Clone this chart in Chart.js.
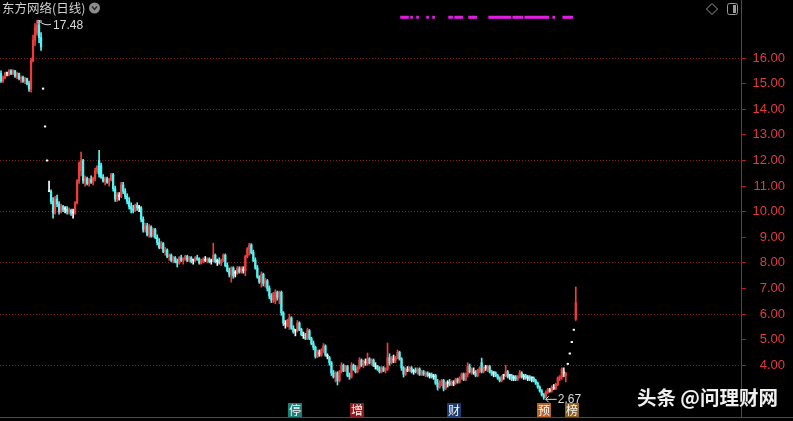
<!DOCTYPE html>
<html>
<head>
<meta charset="utf-8">
<script src="https://cdn.jsdelivr.net/npm/chart.js@4.4.1/dist/chart.umd.min.js"></script>
<style>
  html, body { margin: 0; padding: 0; background: #000; }
  #wrap { width: 793px; height: 421px; }
</style>
</head>
<body>
<div id="wrap"><canvas id="kline"></canvas></div>
<script>
// daily candles (oldest first)
const opens = [
  15.40,15.10,15.25,15.40,15.35,15.50,15.40,15.50,15.30,15.40,
  15.20,15.25,15.10,15.20,15.00,14.80,15.90,16.70,17.00,17.30,
  16.80,14.79,13.31,11.98,10.78,10.78,10.40,9.95,10.50,10.30,
  10.00,10.20,10.10,10.10,10.00,10.05,9.95,9.95,10.35,11.20,
  11.60,12.00,11.20,11.30,11.10,11.25,11.15,11.30,11.60,12.00,
  11.80,11.35,11.20,11.30,11.15,11.25,11.45,10.90,10.50,10.60,
  10.60,11.05,10.80,10.60,10.40,10.20,10.10,10.05,10.25,10.15,
  10.15,9.70,9.30,9.45,9.10,9.40,9.05,9.30,9.00,8.80,
  8.60,8.75,8.45,8.50,8.25,8.30,8.10,8.20,8.05,8.00,
  8.20,8.10,8.15,8.25,8.10,8.20,8.10,8.10,8.20,8.15,
  8.00,8.10,8.10,8.10,8.15,8.05,8.10,8.30,8.05,8.10,
  8.00,8.10,8.30,7.90,7.70,7.55,7.80,7.60,7.60,7.75,
  7.65,7.70,7.70,8.25,8.55,8.70,8.40,8.10,7.80,7.45,
  7.25,7.55,7.20,7.30,7.00,6.70,6.55,6.50,6.85,6.65,
  6.85,6.05,5.60,5.55,5.50,5.85,5.45,5.35,5.35,5.65,
  5.40,5.15,5.10,5.05,5.35,5.05,4.85,4.70,4.35,4.45,
  4.40,4.60,4.75,4.35,4.30,4.10,3.70,3.55,3.70,3.40,
  3.75,4.00,3.80,3.95,3.60,3.55,4.00,3.85,3.75,3.90,
  4.20,4.00,4.10,4.05,4.25,4.10,4.20,3.95,3.95,3.85,
  3.75,3.90,3.80,3.85,4.30,4.10,4.20,4.20,4.30,4.50,
  4.25,3.90,3.65,3.80,3.80,3.90,3.75,3.80,3.75,3.85,
  3.65,3.75,3.65,3.70,3.60,3.65,3.55,3.60,3.30,3.15,
  3.35,3.40,3.10,3.30,3.35,3.25,3.30,3.30,3.45,3.35,
  3.50,3.65,3.45,3.65,3.95,3.75,3.70,3.70,3.60,3.80,
  4.10,3.75,3.90,3.85,3.95,3.75,3.70,3.70,3.60,3.50,
  3.40,3.60,3.60,3.75,3.60,3.60,3.50,3.55,3.45,3.55,
  3.70,3.55,3.60,3.50,3.55,3.50,3.50,3.40,3.30,3.15,
  3.00,2.85,2.75,2.95,3.00,3.00,3.10,3.10,3.25,3.50,
  3.55,3.70,3.60,4.04,4.44,4.89,5.37,5.80
];
const highs = [
  15.50,15.30,15.45,15.45,15.55,15.55,15.55,15.52,15.45,15.42,
  15.30,15.30,15.25,15.22,15.10,16.00,16.90,17.35,17.48,17.40,
  17.00,14.79,13.31,11.98,11.20,10.85,10.55,10.60,10.65,10.40,
  10.30,10.25,10.20,10.20,10.15,10.10,10.10,10.40,11.25,11.95,
  12.33,12.05,11.40,11.35,11.30,11.40,11.35,11.70,11.80,12.40,
  11.90,11.45,11.35,11.35,11.30,11.50,11.50,11.00,10.75,10.75,
  11.15,11.15,10.90,10.70,10.55,10.35,10.25,10.30,10.35,10.25,
  10.20,9.80,9.55,9.55,9.50,9.45,9.35,9.35,9.10,8.95,
  8.85,8.80,8.60,8.55,8.35,8.35,8.25,8.25,8.15,8.25,
  8.30,8.20,8.30,8.30,8.25,8.25,8.15,8.25,8.30,8.20,
  8.15,8.20,8.25,8.20,8.20,8.15,8.77,8.35,8.15,8.20,
  8.15,8.35,8.35,8.00,7.80,7.85,7.85,7.70,7.85,7.85,
  7.85,7.85,8.30,8.60,8.77,8.75,8.50,8.20,7.90,7.50,
  7.65,7.60,7.40,7.35,7.10,6.80,6.85,6.95,6.90,6.90,
  6.90,6.10,5.75,5.80,6.00,5.90,5.55,5.40,5.75,5.70,
  5.45,5.30,5.25,5.45,5.40,5.10,4.95,4.75,4.60,4.60,
  4.65,4.85,4.80,4.45,4.35,4.15,3.80,3.75,3.75,3.80,
  4.10,4.05,4.00,4.00,3.70,4.10,4.05,4.00,3.95,4.30,
  4.25,4.20,4.25,4.48,4.30,4.25,4.25,4.10,4.00,3.95,
  3.95,3.95,3.90,4.87,4.45,4.35,4.40,4.35,4.60,4.55,
  4.30,3.95,3.90,3.95,3.95,3.95,3.85,3.90,3.90,3.90,
  3.80,3.80,3.75,3.75,3.70,3.70,3.65,3.65,3.45,3.40,
  3.45,3.45,3.35,3.40,3.45,3.40,3.40,3.50,3.50,3.55,
  3.70,3.70,3.70,4.10,4.05,3.90,3.90,3.80,3.85,3.95,
  4.28,3.95,4.00,4.00,4.00,3.80,3.75,3.75,3.65,3.55,
  3.60,3.65,4.00,3.80,3.65,3.65,3.60,3.60,3.60,3.80,
  3.75,3.65,3.65,3.60,3.60,3.55,3.55,3.45,3.35,3.20,
  3.05,2.90,3.00,3.10,3.10,3.20,3.25,3.30,3.55,3.60,
  3.90,3.90,3.72,4.04,4.44,4.89,5.37,7.06
];
const lows = [
  15.05,15.05,15.20,15.30,15.30,15.35,15.35,15.25,15.20,15.15,
  15.05,15.05,15.00,14.95,14.70,14.67,15.85,16.50,16.90,16.60,
  16.30,14.79,13.31,11.98,10.78,10.30,9.75,9.90,10.20,9.90,
  9.95,10.00,9.95,9.90,9.90,9.85,9.75,9.90,10.30,11.10,
  11.40,11.10,11.00,11.05,11.00,11.10,11.05,11.20,11.50,11.35,
  11.30,11.15,11.05,11.10,11.00,11.20,10.80,10.40,10.40,10.45,
  10.55,10.70,10.50,10.30,10.10,9.95,9.95,10.00,10.05,10.00,
  9.60,9.20,9.20,9.05,9.00,9.00,9.00,8.95,8.70,8.55,
  8.55,8.40,8.30,8.20,8.10,8.05,8.00,8.00,7.84,7.95,
  8.05,7.95,8.10,8.05,8.05,8.00,7.95,8.05,8.10,7.95,
  7.95,8.00,8.05,8.00,8.00,7.95,8.05,8.00,7.90,7.95,
  7.90,8.05,7.85,7.65,7.45,7.25,7.40,7.45,7.55,7.60,
  7.60,7.60,7.50,8.20,8.30,8.35,8.05,7.75,7.40,7.20,
  7.05,7.10,7.05,6.90,6.60,6.45,6.45,6.40,6.55,6.40,
  5.95,5.55,5.45,5.50,5.40,5.40,5.25,5.15,5.30,5.35,
  5.15,5.05,5.00,5.00,5.00,4.80,4.60,4.28,4.30,4.35,
  4.35,4.50,4.35,4.25,4.00,3.60,3.50,3.35,3.23,3.35,
  3.70,3.75,3.75,3.55,3.45,3.50,3.80,3.70,3.70,3.85,
  3.95,3.90,4.00,4.00,4.05,4.00,3.95,3.85,3.80,3.70,
  3.70,3.75,3.70,3.80,4.00,4.05,4.10,4.10,4.25,4.20,
  3.80,3.54,3.60,3.75,3.75,3.70,3.65,3.70,3.65,3.60,
  3.60,3.60,3.55,3.55,3.50,3.50,3.45,3.25,3.03,3.10,
  3.20,3.00,3.05,3.15,3.20,3.20,3.20,3.25,3.30,3.30,
  3.45,3.40,3.40,3.55,3.70,3.65,3.65,3.55,3.55,3.70,
  3.70,3.70,3.80,3.75,3.70,3.60,3.55,3.55,3.45,3.35,
  3.35,3.45,3.55,3.50,3.45,3.40,3.40,3.40,3.40,3.50,
  3.50,3.45,3.45,3.40,3.40,3.35,3.35,3.25,3.10,2.95,
  2.80,2.67,2.72,2.90,2.95,2.95,3.05,3.05,3.20,3.40,
  3.45,3.55,3.35,4.04,4.44,4.89,5.37,5.75
];
const closes = [
  15.10,15.25,15.40,15.40,15.50,15.40,15.50,15.30,15.40,15.20,
  15.25,15.10,15.20,15.00,14.80,15.90,16.70,17.20,17.30,16.80,
  16.43,14.79,13.31,11.98,10.78,10.40,9.95,10.50,10.30,10.00,
  10.20,10.10,10.10,10.00,10.05,9.95,9.95,10.35,11.20,11.90,
  12.00,11.20,11.30,11.10,11.25,11.15,11.30,11.60,11.75,11.45,
  11.35,11.20,11.30,11.15,11.25,11.45,10.90,10.50,10.65,10.60,
  11.05,10.80,10.60,10.40,10.20,10.10,10.05,10.25,10.15,10.15,
  9.70,9.30,9.45,9.10,9.40,9.05,9.30,9.00,8.80,8.60,
  8.75,8.45,8.50,8.25,8.30,8.10,8.20,8.05,8.00,8.20,
  8.10,8.15,8.25,8.10,8.20,8.05,8.10,8.20,8.15,8.00,
  8.10,8.15,8.10,8.15,8.05,8.05,8.30,8.05,8.05,8.00,
  8.10,8.30,7.90,7.70,7.55,7.80,7.50,7.60,7.80,7.65,
  7.80,7.70,8.25,8.55,8.70,8.40,8.10,7.80,7.45,7.25,
  7.55,7.20,7.30,7.00,6.70,6.55,6.80,6.85,6.65,6.85,
  6.05,5.65,5.60,5.75,5.85,5.45,5.30,5.35,5.65,5.40,
  5.20,5.15,5.05,5.35,5.05,4.85,4.70,4.35,4.55,4.45,
  4.60,4.75,4.40,4.35,4.10,3.70,3.55,3.70,3.40,3.75,
  4.00,3.80,3.95,3.60,3.55,4.00,3.85,3.75,3.90,4.20,
  4.00,4.15,4.10,4.25,4.10,4.20,4.00,3.95,3.85,3.75,
  3.90,3.80,3.85,4.30,4.10,4.30,4.20,4.30,4.50,4.25,
  3.90,3.65,3.85,3.80,3.90,3.75,3.75,3.75,3.85,3.65,
  3.75,3.65,3.70,3.60,3.60,3.55,3.55,3.30,3.15,3.35,
  3.40,3.10,3.30,3.30,3.25,3.35,3.30,3.45,3.35,3.50,
  3.65,3.45,3.65,3.95,3.75,3.85,3.70,3.60,3.80,3.90,
  3.75,3.90,3.90,3.95,3.75,3.65,3.70,3.60,3.50,3.40,
  3.55,3.60,3.75,3.55,3.60,3.45,3.50,3.45,3.55,3.70,
  3.55,3.55,3.50,3.50,3.45,3.50,3.40,3.30,3.15,3.00,
  2.85,2.75,2.95,3.05,3.00,3.15,3.10,3.25,3.50,3.55,
  3.85,3.70,3.67,4.04,4.44,4.89,5.37,6.45
];

const tickValues = [4, 5, 6, 7, 8, 9, 10, 11, 12, 13, 14, 15, 16];

// days flagged by the pink signal strip at the top
const signalDays = [200,201,202,203,205,208,213,216,224,225,227,228,229,230,234,235,236,237,
  244,245,246,247,248,249,250,251,252,253,254,256,257,258,259,260,262,263,264,265,266,267,
  268,269,270,271,272,273,276,281,282,283,284,285];
const signalBand = [17.55, 17.64];

// event badges along the bottom
const badgeDays = [147, 178, 226, 271, 285];
const badgeText = ['停', '增', '财', '预', '榜'];

const title = '东方网络(日线)';
const watermark = '头条 @问理财网';

// ── styling ─────────────────────────────────────────
const UP = '#f03c3c', DOWN = '#54f4f4', FLAT = '#ffffff';
const AXIS_RED = '#b41e1e';
const badgeBg = ['#1d7f78', '#8c1c1c', '#1c3c70', '#b8642a', '#8c6020'];
const slots = 370;
const days = Array.from({ length: slots }, (_, i) => i);

const candleColor = i =>
  closes[i] > opens[i] ? UP : closes[i] < opens[i] ? DOWN : FLAT;

const overlay = {
  id: 'overlay',
  afterDraw(chart) {
    const { ctx, chartArea } = chart;
    const x = chart.scales.x, y = chart.scales.y;
    ctx.save();

    // bottom rule across the whole window
    ctx.fillStyle = AXIS_RED;
    ctx.fillRect(0, Math.round(chartArea.bottom), chart.width, 1);

    // title + dropdown knob
    ctx.font = '12.5px "Noto Sans CJK SC"';
    ctx.fillStyle = '#d0d0d0';
    ctx.textBaseline = 'middle';
    ctx.textAlign = 'left';
    ctx.fillText(title, 2, 8);
    ctx.beginPath();
    ctx.arc(94.5, 8, 5.5, 0, Math.PI * 2);
    ctx.fillStyle = '#8c8c8c';
    ctx.fill();
    ctx.strokeStyle = '#222';
    ctx.lineWidth = 1.2;
    ctx.beginPath();
    ctx.moveTo(92, 6.5); ctx.lineTo(94.5, 9.5); ctx.lineTo(97, 6.5);
    ctx.stroke();

    // top-right icons
    ctx.strokeStyle = '#9a9a9a';
    ctx.lineWidth = 1;
    ctx.beginPath();
    ctx.moveTo(712, 3.5); ctx.lineTo(717.5, 9); ctx.lineTo(712, 14.5); ctx.lineTo(706.5, 9); ctx.closePath();
    ctx.stroke();
    ctx.beginPath();
    ctx.roundRect(727.5, 3.5, 10, 11, 2);
    ctx.stroke();
    ctx.fillStyle = '#9a9a9a';
    ctx.fillRect(733, 5, 3, 8);

    // highest / lowest markers
    ctx.font = '12px "Liberation Sans"';
    ctx.fillStyle = '#d8d8d8';
    ctx.strokeStyle = '#d8d8d8';
    const hi = Math.max(...highs), hiIdx = highs.indexOf(hi);
    const hx = x.getPixelForValue(hiIdx), hy = y.getPixelForValue(hi);
    ctx.beginPath();
    ctx.moveTo(hx + 1, hy); ctx.lineTo(hx + 1, hy + 3);
    ctx.moveTo(hx + 1, hy); ctx.lineTo(hx + 5, hy + 1);
    ctx.moveTo(hx + 2, hy + 1); ctx.quadraticCurveTo(hx + 8, hy + 6, hx + 14, hy + 4);
    ctx.stroke();
    ctx.fillText(hi.toFixed(2), hx + 16, hy + 5);

    const lo = Math.min(...lows), loIdx = lows.indexOf(lo);
    const lx = x.getPixelForValue(loIdx), ly = y.getPixelForValue(lo);
    ctx.beginPath();
    ctx.moveTo(lx + 2, ly); ctx.lineTo(lx + 13, ly);
    ctx.moveTo(lx + 2, ly); ctx.lineTo(lx + 5, ly - 3);
    ctx.moveTo(lx + 2, ly); ctx.lineTo(lx + 5, ly + 3);
    ctx.stroke();
    ctx.fillText(lo.toFixed(2), lx + 14, ly);

    // event badges
    ctx.font = '12px "Noto Sans CJK SC"';
    ctx.textAlign = 'center';
    badgeDays.forEach((d, k) => {
      const bx = Math.round(x.getPixelForValue(d));
      ctx.fillStyle = badgeBg[k];
      ctx.fillRect(bx - 7, 403, 14, 14);
      ctx.fillStyle = '#f4f4f4';
      ctx.fillText(badgeText[k], bx, 410);
    });

    // watermark
    ctx.font = 'bold 19.5px "Noto Sans CJK SC"';
    ctx.textAlign = 'right';
    ctx.shadowColor = 'rgba(0,0,0,0.7)';
    ctx.shadowBlur = 2;
    ctx.fillStyle = '#f0f0f0';
    ctx.fillText(watermark, 778, 398);

    ctx.restore();
  }
};

new Chart(document.getElementById('kline'), {
  type: 'bar',
  data: {
    labels: days,
    datasets: [
      {
        label: 'wick',
        data: opens.map((_, i) => [lows[i], highs[i]]),
        backgroundColor: ctx => candleColor(ctx.dataIndex),
        barThickness: 1,
        minBarLength: 1,
        grouped: false
      },
      {
        label: 'body',
        data: opens.map((o, i) => [o, closes[i]]),
        backgroundColor: ctx => candleColor(ctx.dataIndex),
        barThickness: 1.6,
        minBarLength: 1,
        grouped: false
      },
      {
        label: 'signal',
        data: days.map(d => signalDays.includes(d) ? signalBand : null),
        backgroundColor: '#e020e0',
        barThickness: 2,
        grouped: false
      }
    ]
  },
  options: {
    responsive: true,
    maintainAspectRatio: false,
    animation: false,
    events: [],
    layout: { padding: { left: 0, right: 8, top: 0, bottom: 4 } },
    plugins: { legend: { display: false }, tooltip: { enabled: false } },
    scales: {
      x: { display: false, grid: { display: false } },
      y: {
        position: 'right',
        min: 1.98,
        max: 18.27,
        afterBuildTicks: s => { s.ticks = tickValues.map(v => ({ value: v })); },
        afterFit: s => { s.width = 44; s.paddingTop = 0; s.paddingBottom = 0; },
        border: { display: true, color: AXIS_RED, dash: [1, 2] },
        grid: {
          color: c => c.tick && c.tick.value % 2 === 0 ? 'rgba(150,30,30,0.9)' : 'rgba(0,0,0,0)',
          tickLength: 5,
          tickColor: AXIS_RED,
          tickBorderDash: []
        },
        ticks: {
          color: '#e03c3c',
          font: { family: 'Liberation Sans', size: 13 },
          padding: 6,
          crossAlign: 'far',
          autoSkip: false,
          callback: v => Number(v).toFixed(2)
        }
      }
    }
  },
  plugins: [overlay]
});
</script>
</body>
</html>
